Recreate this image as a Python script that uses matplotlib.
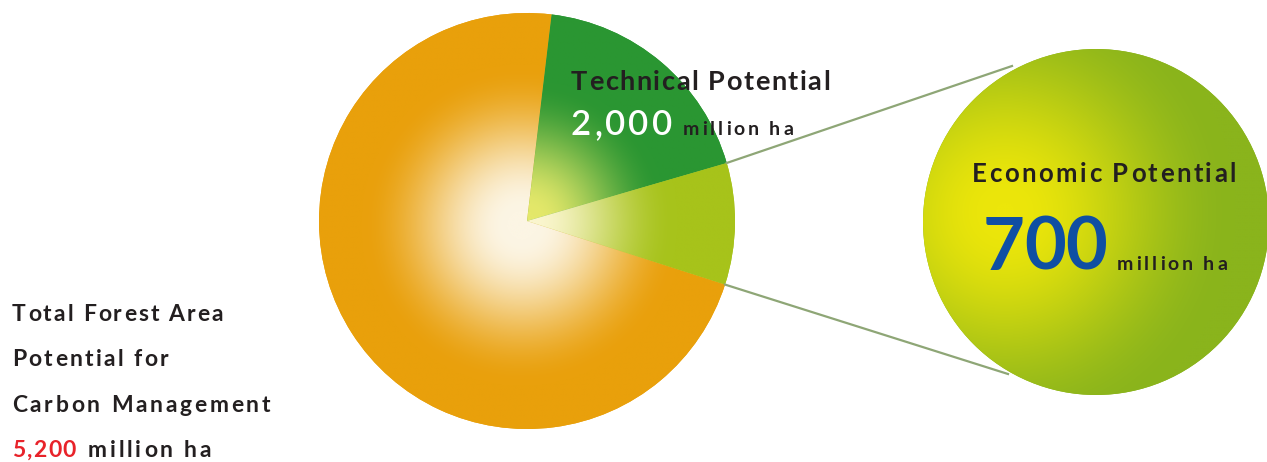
import numpy as np
import matplotlib.pyplot as plt
from matplotlib.colors import to_rgb
from matplotlib.patches import Circle

# shares of the disc as drawn in the picture (degrees)
slice_names = ["Economic", "Technical", "Remaining forest"]
slice_shares = [34, 67, 259]
slice_outer_colors = ["#a7c31b", "#2b9632", "#e9a00c"]
slice_inner_colors = ["#fbf6cf", "#e4e86a", "#fcf5e4"]

total_value = "5,200"
technical_value = "2,000"
economic_value = "700"
unit = "million ha"
total_label = ["Total Forest Area", "Potential for", "Carbon Management"]

W, H = 1267, 462
FONT = "Lato"
DARK = "#231f20"


def radial_fill(ax, clip, cx, cy, r0, r1, inner, outer, extent, z):
    x0, x1, y0, y1 = extent
    xs = np.linspace(x0, x1, 500)
    ys = np.linspace(y0, y1, 500)
    X, Y = np.meshgrid(xs, ys)
    t = np.clip((np.hypot(X - cx, Y - cy) - r0) / (r1 - r0), 0, 1)
    t = t * t * (3 - 2 * t)
    c0 = np.array(to_rgb(inner))
    c1 = np.array(to_rgb(outer))
    img = c0 + (c1 - c0) * t[..., None]
    im = ax.imshow(img, extent=extent, origin="lower", zorder=z,
                   interpolation="bilinear")
    im.set_clip_path(clip)


fig = plt.figure(figsize=(W / 100, H / 100), dpi=100)
ax = fig.add_axes([0, 0, 1, 1])
ax.set_xlim(0, W)
ax.set_ylim(0, H)
renderer = fig.canvas.get_renderer()


def text_width(s, **kw):
    t = ax.text(0, 0, s, **kw)
    w = t.get_window_extent(renderer).width
    t.remove()
    return w


def spaced_text(x, y, s, span, **kw):
    # letter-spaced text stretched to cover `span` pixels
    kw.setdefault("family", FONT)
    kw.setdefault("va", "baseline")
    kw.setdefault("zorder", 5)
    bar = text_width("|", **kw)
    offs = [text_width(s[:i] + "|", **kw) - bar if i else 0 for i in range(len(s))]
    natural = text_width(s, **kw)
    track = (span - natural) / max(len(s) - 1, 1)
    for i, ch in enumerate(s):
        if ch != " ":
            ax.text(x + offs[i] + i * track, y, ch, **kw)


# main pie
pcx, pcy, pr = 527, H - 221, 208
wedges, _ = ax.pie(slice_shares, colors=slice_outer_colors, startangle=-17.8,
                   counterclock=True, center=(pcx, pcy), radius=pr,
                   wedgeprops=dict(linewidth=0))
ext = (pcx - pr - 2, pcx + pr + 2, pcy - pr - 2, pcy + pr + 2)
radial_fill(ax, wedges[2], pcx - 5, pcy - 4, 15, 160,
            slice_inner_colors[2], slice_outer_colors[2], ext, 2)
radial_fill(ax, wedges[1], pcx, pcy, 10, 140,
            slice_inner_colors[1], slice_outer_colors[1], ext, 2)
radial_fill(ax, wedges[0], pcx, pcy, 5, 150,
            slice_inner_colors[0], slice_outer_colors[0], ext, 2)

# zoom circle for the economic slice
ccx, ccy, cr = 1096, H - 222, 173
circ = Circle((ccx, ccy), cr, facecolor="#8ab41c", linewidth=0, zorder=1)
ax.add_patch(circ)
radial_fill(ax, circ, 1005, H - 212, 10, 230, "#ece60a", "#8ab41c",
            (ccx - cr - 2, ccx + cr + 2, ccy - cr - 2, ccy + cr + 2), 2)

# connector lines from slice edge to circle
a1, a2 = np.deg2rad(-17.8 + slice_shares[0]), np.deg2rad(-17.8)
ax.plot([pcx + pr * np.cos(a1), 1012], [pcy + pr * np.sin(a1), H - 66],
        color="#8ea676", lw=1.6, zorder=3)
ax.plot([pcx + pr * np.cos(a2), 1008], [pcy + pr * np.sin(a2), H - 374],
        color="#8ea676", lw=1.6, zorder=3)

# texts
spaced_text(571, H - 90, "Technical Potential", 259, fontsize=19.5,
            color=DARK, weight="bold")
spaced_text(571, H - 135, technical_value, 101, fontsize=25,
            color="white", weight="semibold")
spaced_text(683, H - 135, unit, 110, fontsize=14, color=DARK, weight="bold")

spaced_text(972, H - 182, "Economic Potential", 264, fontsize=18.5,
            color=DARK, weight="bold")
spaced_text(983, H - 270, economic_value, 124, fontsize=52,
            color="#0f4fa3", weight="bold")
spaced_text(1117, H - 270, unit, 110, fontsize=14, color=DARK, weight="bold")

left_spans = [211, 156, 258]
for i, line in enumerate(total_label):
    spaced_text(12, H - (321 + 45.3 * i), line, left_spans[i], fontsize=16.5,
                color=DARK, weight="bold", zorder=1)
spaced_text(12, H - 457, total_value, 64, fontsize=16.5, color="#e8232a",
            weight="bold")
spaced_text(88, H - 457, unit, 123, fontsize=16.5, color=DARK, weight="bold")

ax.set_xlim(0, W)
ax.set_ylim(0, H)
ax.set_aspect("auto")
ax.axis("off")

fig.savefig("out.png", dpi=100, facecolor="white")
